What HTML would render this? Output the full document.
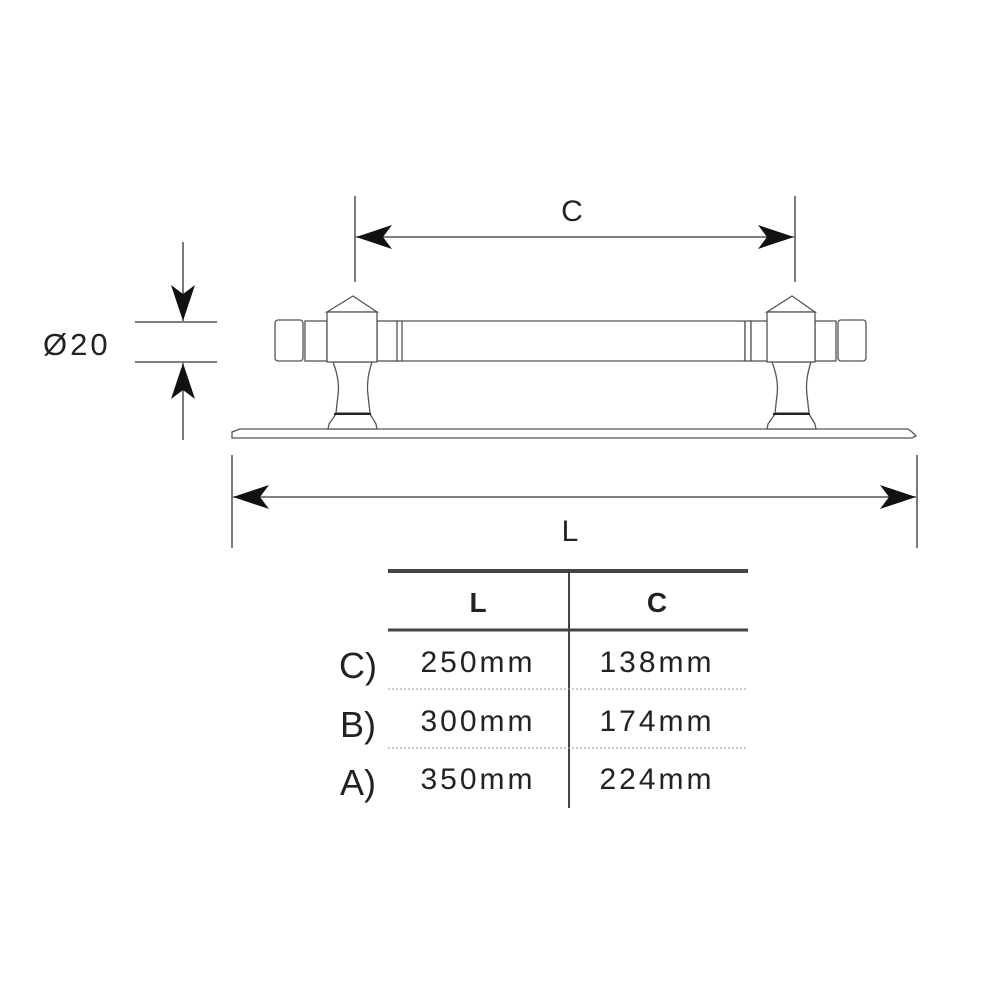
<!DOCTYPE html>
<html><head><meta charset="utf-8"><style>
html,body{margin:0;padding:0;background:#fff;width:1000px;height:1000px;overflow:hidden}
svg{display:block}
text{font-family:"Liberation Sans","DejaVu Sans",sans-serif;fill:#222}
</style></head><body>
<svg width="1000" height="1000" viewBox="0 0 1000 1000" xmlns="http://www.w3.org/2000/svg">
<defs>
<marker id="ah" viewBox="0 0 36 24" refX="36" refY="12" markerWidth="36" markerHeight="24" markerUnits="userSpaceOnUse" orient="auto-start-reverse">
<path d="M0,0 L36,12 L0,24 L9,12 Z" fill="#111"/>
</marker>
</defs>
<g stroke="#555" stroke-width="1.3" fill="#fff">
<path d="M232,432 L240,429 L908,429 L912,432 L916,436 L912,438 L232,438 Z"/>
<rect x="400" y="321" width="345" height="40" rx="2"/>
<rect x="396" y="321" width="6" height="40"/>
<rect x="745" y="321" width="6" height="40"/>
<rect x="275" y="320" width="28" height="41" rx="3"/>
<rect x="305" y="321" width="22" height="40"/>
<rect x="377" y="321" width="20" height="40"/>
<path d="M333,362 L372,362 Q366,380 368,395 L370,413 L336,413 L338,395 Q340,380 333,362 Z"/>
<path d="M336,414 L370,414 L376,424 L377,429 L328,429 L329,424 Z"/>
<line x1="334" y1="414" x2="371" y2="414" stroke="#222" stroke-width="2"/>
<path d="M327,312 L353,296 L377,312 Z"/>
<rect x="327" y="312" width="50" height="50"/>
<rect x="815" y="321" width="21" height="40"/>
<rect x="838" y="320" width="28" height="41" rx="3"/>
<rect x="751" y="321" width="17" height="40"/>
<path d="M772,362 L811,362 Q805,380 807,395 L809,413 L775,413 L777,395 Q779,380 772,362 Z"/>
<path d="M775,414 L809,414 L815,424 L816,429 L767,429 L768,424 Z"/>
<line x1="773" y1="414" x2="810" y2="414" stroke="#222" stroke-width="2"/>
<path d="M767,312 L792,296 L815,312 Z"/>
<rect x="767" y="312" width="48" height="50"/>
</g>
<g stroke="#333" stroke-width="1.3" fill="none">
<line x1="355" y1="196" x2="355" y2="282"/>
<line x1="795" y1="196" x2="795" y2="282"/>
<line x1="356" y1="237" x2="794" y2="237" marker-start="url(#ah)" marker-end="url(#ah)"/>
<line x1="232" y1="455" x2="232" y2="548"/>
<line x1="917" y1="455" x2="917" y2="548"/>
<line x1="233" y1="497" x2="916" y2="497" marker-start="url(#ah)" marker-end="url(#ah)"/>
<line x1="135" y1="322" x2="217" y2="322"/>
<line x1="135" y1="362" x2="217" y2="362"/>
<line x1="183" y1="242" x2="183" y2="321" marker-end="url(#ah)"/>
<line x1="183" y1="440" x2="183" y2="363" marker-end="url(#ah)"/>
</g>
<text x="572" y="221" font-size="30" text-anchor="middle" fill="#333">C</text>
<text x="570" y="541" font-size="30" text-anchor="middle" fill="#333">L</text>
<text x="43" y="355" font-size="31" letter-spacing="3" fill="#333">Ø20</text>
<g stroke="#444">
<line x1="388" y1="571" x2="748" y2="571" stroke-width="4"/>
<line x1="388" y1="630" x2="748" y2="630" stroke-width="3"/>
<line x1="569" y1="572" x2="569" y2="808" stroke-width="2"/>
<line x1="388" y1="689" x2="748" y2="689" stroke-width="1" stroke-dasharray="2,2" stroke="#999"/>
<line x1="388" y1="748" x2="748" y2="748" stroke-width="1" stroke-dasharray="2,2" stroke="#999"/>
</g>
<g font-size="30" text-anchor="middle" letter-spacing="3">
<text x="478" y="612" font-weight="bold" font-size="28" letter-spacing="0">L</text>
<text x="657" y="612" font-weight="bold" font-size="28" letter-spacing="0">C</text>
<text x="478" y="672">250mm</text><text x="657" y="672">138mm</text>
<text x="478" y="731">300mm</text><text x="657" y="731">174mm</text>
<text x="478" y="789">350mm</text><text x="657" y="789">224mm</text>
</g>
<g font-size="36" text-anchor="middle">
<text x="358" y="678">C)</text>
<text x="358" y="737">B)</text>
<text x="358" y="795">A)</text>
</g>
</svg>
</body></html>
